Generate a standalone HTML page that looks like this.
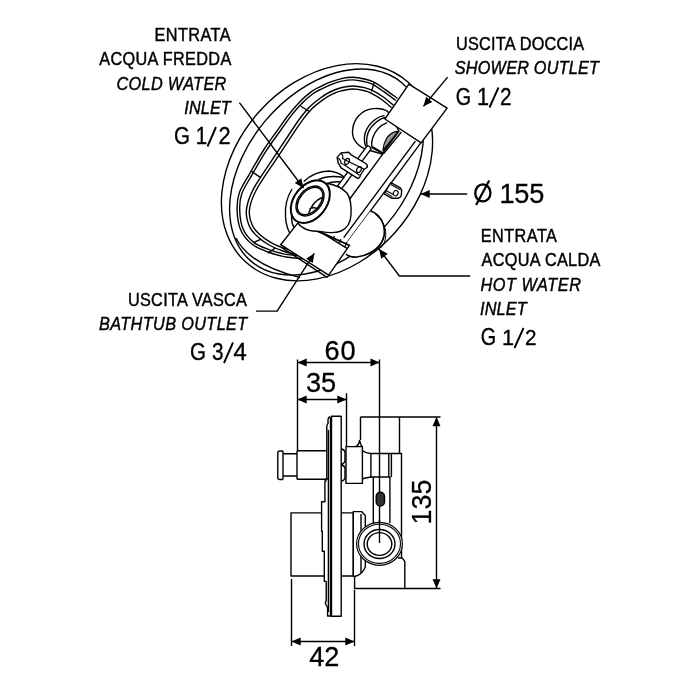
<!DOCTYPE html>
<html><head><meta charset="utf-8">
<style>
html,body{margin:0;padding:0;background:#fff;width:700px;height:700px;overflow:hidden}
svg{display:block;will-change:transform}
text{font-family:"Liberation Sans",sans-serif;fill:#000;stroke:#000;stroke-width:0.42px}
.lb{font-size:17.7px}
.it{font-style:italic}
.g{font-size:22.8px;stroke-width:0.35px}
.d{font-size:28px;stroke-width:0.3px}
.s{fill:none;stroke:#000;stroke-width:1.4;stroke-linejoin:round;stroke-linecap:butt}
.t{fill:none;stroke:#111;stroke-width:1.1}
.ar{fill:#000;stroke:none}
</style></head><body>
<svg width="700" height="700" viewBox="0 0 700 700">
<rect width="700" height="700" fill="#fff"/>

<text class="lb" letter-spacing="0.475" transform="translate(154.48 40.70) scale(0.9200 1)">ENTRATA</text>
<text class="lb" letter-spacing="0.348" transform="translate(99.30 65.40) scale(0.9200 1)">ACQUA FREDDA</text>
<text class="lb it" letter-spacing="0.338" transform="translate(116.48 89.70) scale(0.9200 1)">COLD WATER</text>
<text class="lb it" letter-spacing="0.109" transform="translate(184.28 114.20) scale(0.9200 1)">INLET</text>
<text class="lb" letter-spacing="0.254" transform="translate(455.98 49.90) scale(0.9200 1)">USCITA DOCCIA</text>
<text class="lb it" letter-spacing="0.201" transform="translate(454.78 73.90) scale(0.9200 1)">SHOWER OUTLET</text>
<text class="d" letter-spacing="-0.247" transform="translate(499.46 202.60) scale(0.9700 1)">155</text>
<text class="lb" letter-spacing="0.493" transform="translate(480.68 241.80) scale(0.9200 1)">ENTRATA</text>
<text class="lb" letter-spacing="0.324" transform="translate(481.60 266.20) scale(0.9200 1)">ACQUA CALDA</text>
<text class="lb it" letter-spacing="0.603" transform="translate(480.38 290.70) scale(0.9200 1)">HOT WATER</text>
<text class="lb it" letter-spacing="0.136" transform="translate(480.08 315.00) scale(0.9200 1)">INLET</text>
<text class="lb" letter-spacing="0.287" transform="translate(127.98 305.60) scale(0.9200 1)">USCITA VASCA</text>
<text class="lb it" letter-spacing="0.391" transform="translate(99.08 329.70) scale(0.9200 1)">BATHTUB OUTLET</text>
<text class="d" letter-spacing="0.897" transform="translate(324.53 359.50) scale(0.9700 1)">60</text>
<text class="d" letter-spacing="-0.134" transform="translate(306.03 391.50) scale(0.9700 1)">35</text>
<text class="d" letter-spacing="-0.237" transform="translate(309.33 665.70) scale(0.9700 1)">42</text>
<text class="d" transform="translate(431,524.4) rotate(-90) scale(0.959 1)">135</text>
<text class="g" transform="translate(174.10 144.20) scale(0.9000 1.0467)">G</text>
<text class="g" transform="translate(195.70 144.00) scale(0.9000 1.0333)">1</text>
<text class="g" transform="translate(218.55 144.00) scale(0.9545 1.0333)">2</text>
<text class="g" transform="translate(455.63 104.50) scale(0.8667 1.0667)">G</text>
<text class="g" transform="translate(477.10 104.50) scale(0.9500 1.0333)">1</text>
<text class="g" transform="translate(500.09 104.50) scale(0.9091 1.0333)">2</text>
<text class="g" transform="translate(480.63 345.00) scale(0.8667 1.0333)">G</text>
<text class="g" transform="translate(502.10 345.00) scale(0.9500 1.0000)">1</text>
<text class="g" transform="translate(525.09 345.00) scale(0.9091 1.0000)">2</text>
<text class="g" transform="translate(190.10 360.00) scale(0.9000 1.0667)">G</text>
<text class="g" transform="translate(212.09 360.00) scale(0.9091 1.0667)">3</text>
<text class="g" transform="translate(233.45 360.00) scale(1.0455 1.0333)">4</text>
<path d="M207.5 146.5 L216.0 127.0 M489.5 107.5 L498.5 87.5 M514.5 348.0 L523.5 328.0 M224.0 363.0 L233.0 342.5" style="fill:none;stroke:#000;stroke-width:1.9"/>
<ellipse cx="482.85" cy="192.9" rx="7.6" ry="8.5" style="fill:none;stroke:#000;stroke-width:2.3"/>
<path d="M476.1 205.1 L489.2 180.6" style="fill:none;stroke:#000;stroke-width:2.2"/>
<g class="s">
<ellipse cx="327.0" cy="172.22" rx="90.9" ry="121.16" transform="rotate(42.12 327.0 172.22)"/>
<ellipse cx="326.5" cy="172.02" rx="79.8" ry="116.80" transform="rotate(40.10 326.5 172.02)"/>
<path d="M236 238 C244 254 262 268 300 277.5"/>
<path d="M397.4 98.4 C395.3 96.9 388.9 92.0 384.9 89.3 C380.9 86.5 376.8 83.6 373.4 81.9 C370.0 80.2 367.7 79.8 364.3 79.0 C360.9 78.2 356.7 77.4 352.9 77.3 C349.1 77.2 345.2 77.8 341.4 78.6 C337.6 79.4 333.6 80.8 330.0 82.2 C326.4 83.6 323.1 85.2 320.0 86.8 C316.9 88.4 314.6 89.2 311.4 91.6 C308.2 94.0 304.4 97.1 300.6 101.0 C296.8 104.9 292.3 110.2 288.5 115.0 C284.7 119.8 281.8 124.2 277.7 130.0 C273.6 135.8 268.3 142.6 263.6 150.0 C258.9 157.4 253.4 167.2 249.3 174.3 C245.2 181.5 241.3 187.0 239.3 192.9 C237.3 198.8 236.9 203.8 237.1 210.0 C237.3 216.2 238.2 224.3 240.7 230.0 C243.2 235.7 247.5 240.6 252.1 244.3 C256.6 248.0 262.7 249.9 268.0 252.0 C273.3 254.1 279.3 255.6 284.0 256.6 C288.7 257.6 292.5 257.6 296.0 258.0 C299.5 258.4 303.5 258.8 305.0 259.0"/>
<path d="M395.9 100.5 C393.8 99.0 387.4 94.2 383.4 91.4 C379.5 88.7 375.5 85.9 372.2 84.2 C369.0 82.6 367.0 82.3 363.7 81.5 C360.5 80.8 356.5 80.0 352.9 79.9 C349.2 79.8 345.6 80.4 341.9 81.1 C338.3 81.9 334.4 83.3 330.9 84.6 C327.5 86.0 324.2 87.6 321.2 89.1 C318.2 90.6 316.1 91.4 312.9 93.7 C309.8 96.0 306.2 99.0 302.5 102.8 C298.7 106.6 294.3 111.8 290.5 116.6 C286.8 121.4 283.9 125.7 279.8 131.5 C275.7 137.3 270.5 144.1 265.8 151.4 C261.1 158.7 255.6 168.5 251.6 175.6 C247.6 182.6 243.7 188.0 241.8 193.7 C239.8 199.5 239.5 204.0 239.7 209.9 C239.9 215.8 240.7 223.6 243.1 229.0 C245.4 234.4 249.4 238.8 253.7 242.3 C258.0 245.7 263.8 247.6 268.9 249.6 C274.1 251.5 280.0 253.1 284.5 254.1 C289.1 255.0 292.8 255.0 296.3 255.4 C299.8 255.8 303.8 256.2 305.3 256.4"/>
<path d="M393.4 105.3 C391.8 104.0 387.2 99.8 383.7 97.3 C380.2 94.8 375.5 92.0 372.3 90.4 C369.1 88.8 367.5 88.3 364.3 87.6 C361.1 86.9 356.8 86.0 352.9 86.0 C349.0 86.0 344.8 86.8 341.0 87.8 C337.2 88.8 333.5 90.3 330.0 92.0 C326.5 93.7 323.3 95.8 320.0 98.2 C316.7 100.6 313.2 103.4 310.0 106.5 C306.8 109.6 304.0 113.1 301.0 117.0 C298.0 120.9 296.3 123.5 292.0 130.0 C287.7 136.4 281.4 145.9 275.0 155.7 C268.6 165.5 258.4 179.5 253.6 188.6 C248.8 197.7 247.1 203.7 246.4 210.0 C245.7 216.3 247.6 222.0 249.5 226.5 C251.4 231.0 254.6 233.8 258.0 237.0 C261.4 240.2 265.8 243.2 270.0 245.5 C274.2 247.8 278.7 249.5 283.0 251.0 C287.3 252.5 292.3 253.6 296.0 254.5 C299.7 255.4 303.5 256.2 305.0 256.5"/>
<path d="M391.5 107.6 C389.9 106.3 385.4 102.2 382.0 99.8 C378.5 97.3 374.0 94.6 371.0 93.1 C367.9 91.5 366.6 91.2 363.6 90.5 C360.6 89.8 356.6 89.0 352.9 89.0 C349.3 89.0 345.4 89.8 341.8 90.7 C338.2 91.7 334.7 93.0 331.3 94.7 C328.0 96.3 325.0 98.3 321.8 100.6 C318.6 103.0 315.2 105.6 312.1 108.6 C309.0 111.7 306.3 115.0 303.4 118.8 C300.4 122.7 298.8 125.3 294.5 131.7 C290.2 138.1 283.9 147.6 277.5 157.3 C271.1 167.1 260.9 181.2 256.3 190.0 C251.6 198.8 250.0 204.4 249.4 210.3 C248.7 216.2 250.5 221.2 252.3 225.3 C254.0 229.4 256.8 231.9 260.0 234.8 C263.2 237.7 267.5 240.7 271.5 242.9 C275.5 245.1 279.8 246.7 284.0 248.2 C288.2 249.6 293.1 250.7 296.7 251.6 C300.3 252.5 304.2 253.2 305.7 253.6"/>
<path d="M374.3 82.4L371.4 91.6 M300.6 106L310 112 M251.4 171.4L260 177.1 M252.9 242.9L260.7 239.3 M268 253.1L275.4 248"/>
</g>
<g class="s" style="fill:#fff">
<path d="M387.6 111.3 C381 107 366 107 358.9 115.6 C352 123 350.5 135 355.4 141.3 C358 145 361 147 364.9 149 L382 154 L399 131 Z"/>
</g>
<g class="s">
<path d="M384.6 115.6 C378 116 369 123 365.5 132 C363.5 138 364.5 143 365.7 146.4"/>
<path d="M386 117.5 C380 118 371.5 124.5 368 133 C366 139 366.5 143.5 367.5 147"/>
<path d="M387.1 122.6 C381 125 375.5 130 372.8 137.5 C371.6 141 371.5 144 371.7 146.3 L383.7 153.3"/>
<path d="M398.6 131.1 C393 131.5 388.5 135 386 139.5 C384 143 383.2 147 382.9 150.5 Z" style="fill:#999;stroke-width:1.2"/>
<path d="M401.4 132 L383.7 153.5"/>
</g>
<g class="s" style="fill:#fff">
<path d="M367 146.2 Q369.5 144.8 371 149.2 L341.7 188.7 L337.7 185.7 Z"/>
</g>
<g class="s">
<path d="M371.5 147.5 L383.1 153.7 L349 200"/>
</g>
<g class="s" style="fill:#fff">
<path d="M337.1 157.4 L341.1 152.9 L348.6 152.3 L350.9 154.6 L365.7 163.5 Q368.3 165.5 366.9 167.5 L364 169.5 L360.2 175.5 Q360 178.5 357.2 178.2 L341.1 167.9 L338.3 163.1 Z"/>
</g>
<g class="s" style="stroke-width:1.2">
<path d="M345.8 160.3 L364.2 169.2 M343.4 164.3 L359.6 175.2"/>
<path d="M341.1 152.9 Q343.5 155.5 342.5 158.5 L345.8 160.3 M338.3 158 Q341 160 341 163.5 L343.4 164.3"/>
<ellipse cx="347" cy="161.4" rx="2.1" ry="3.2" transform="rotate(30 347 161.4)"/>
<ellipse cx="359" cy="169.6" rx="2.1" ry="3.2" transform="rotate(30 359 169.6)"/>
</g>
<g class="s">
<path d="M415.4 141.1 L343.7 237.7 M420.6 143.2 L347.6 241.8"/>
</g>
<g class="s" style="fill:#fff">
<path d="M390.9 182.7 L400.3 187.9 Q402 189.5 401.6 192 L401.1 196 Q400 198 398.1 198.3 L392.1 198.3 L384 193.9 Z"/>
</g>
<g class="s" style="stroke-width:1.1">
<path d="M390.9 184.6 L400.3 189.8 M385.7 190.4 L393 194.3 M384.8 192.1 L392.3 196.6"/>
<ellipse cx="395.7" cy="193.2" rx="2.3" ry="2.8" transform="rotate(30 395.7 193.2)"/>
</g>
<g style="fill:#fff;stroke:none">
<path d="M370.4 211 C380 214 386 224 384 236 C382 246 372 255 357 257 C352 257.5 348 256 346 254 L338.5 254 Z"/>
</g>
<g class="s">
<path d="M370.4 211 C380 214 386 224 384 236 C382 246 372 255 357 257 C352 257.5 348 256 346 254" style="stroke-width:1.7"/>
<path d="M375 214 C383 220 387 229 385.5 238 C384.5 244 381 248 378 250" style="stroke-width:1"/>
<path d="M347.1 242.3 L338.5 254"/>
</g>
<g class="s">
<path d="M292 189 C287 197 284.8 208 285.5 217 C286 225 288 231 291.5 236"/>
<path d="M293.8 204 C291.5 211 291 218 292.3 223.5 C293 226 294 228 296 230"/>
</g>
<g class="s" style="fill:#fff">
<path d="M297.9 222.9 L349.5 245.4 L328.7 275.2 L280.7 244.7 Z"/>
</g>
<g class="s">
<path d="M281.5 247.3 L327.5 277.6"/>
<path d="M320.1 231.6 L349.5 245.4 M320.1 231.6 L347 248.4"/>
<path d="M334.5 236.2 L332.5 239.5 M341 239.3 L339.5 242.8 M346.5 242.5 L345.2 246.5"/>
</g>
<path d="M297.9 223.3 C301 227 305 229.5 310 230.5 C314 231.2 318 231.2 321 231.6 C328 232.8 336 233 341 231 C347 228.5 350.5 223 351 215 C351.5 206 350 198 347 193 L344 177 C340 173.5 335 171.5 329 171 C322 171 312 174 303.7 181.4 Z" style="fill:#fff;stroke:none"/>
<g class="s">
<path d="M303.7 181.4 C312 174 322 171 329 171 C335 171.5 340 173.5 344 177"/>
<path d="M318.7 179.5 C325 176.5 333 175.5 344 177.5"/>
<path d="M326 184 C331 182 336 181.5 341 182"/>
<path d="M327 183.2 C334 184.5 342 188 347 193 C350.5 198 351.5 206 351 215 C350.5 223 347 228.5 341 231 C336 233 328 232.8 321 231.6 C318 231.2 314 231.2 310 230.5 C305 229.5 301 227 297.9 223.3"/>
</g>
<g class="s" style="fill:#fff">
<path d="M344.6 176.6 L337.7 185.7 L341.7 188.7 L348.5 179.6"/>
</g>
<g class="s" style="fill:#fff">
<ellipse cx="310.3" cy="201.7" rx="16.5" ry="24" transform="rotate(38 310.3 201.7)" style="stroke-width:1.7"/>
</g>
<g class="s">
<ellipse cx="310.3" cy="201.7" rx="15.8" ry="23.3" transform="rotate(38 310.3 201.7)" style="stroke-width:0.8"/>
<ellipse cx="310" cy="201" rx="11.5" ry="17" transform="rotate(40 310 201)"/>
<ellipse cx="310" cy="201" rx="10.2" ry="15.7" transform="rotate(40 310 201)"/>
<path d="M308.5 214 C311 206 316 200 322 197.5 M309.5 209 C312 207 316 207.5 318 209"/>
</g>
<g class="s" style="fill:#fff">
<path d="M408.9 84.1 L447.1 108.1 L421.1 142.9 L384.9 119 Z"/>
</g>
<g class="s">
<path d="M239.4 102.7 L303.5 188"/>
<path d="M447.6 77.1 L423.5 106.3"/>
<path d="M467.2 194 L420.5 194"/>
<path d="M379.1 249.1 L399.4 276 L470.3 276"/>
<path d="M256 311.1 L277.1 311.1 L314.3 253.4"/>
</g>
<g class="ar">
<path d="M303.5 188.0 L294.7 183.1 L301.3 178.2 Z M423.5 106.3 L426.1 96.8 L432.3 101.9 Z M420.5 194.0 L429.7 190.0 L429.7 198.0 Z M379.1 249.1 L387.8 253.8 L381.2 258.8 Z M314.3 253.4 L312.8 263.1 L306.1 258.8 Z"/>
</g>
<!-- ===== SIDE VIEW ===== -->
<g class="s">
  <!-- dimension lines -->
  <path d="M297.5 359.5V450.5 M379.5 359.5V543 M346.5 393.3V446.5"/>
  <path d="M297.5 362.5H379.5 M297.5 399.5H346.5"/>
  <path d="M360.5 417H440.5 M404 588.5H440.5 M436.5 417V588.5"/>
  <path d="M291.5 579V646 M354.5 590V646 M291.5 641.5H354.5"/>

  <!-- knob -->
  <path d="M283 453.7H297 M283 476H297 M297 450.8H326 M297 479.2H326 M297 450.8V479.2"/>
  <path d="M283 451V479.5 M277.8 453 Q277.5 451 280 451 H283 M277.8 477.5 Q277.5 479.5 280 479.5 H283 M277.8 453V477.5"/>
  <!-- cover thin lines and stepped contour -->
  <path d="M326.8 425.7V479 M326.8 425.7 Q327.5 424 328 424 M328 479 L325.9 479 V481 H324.9 V501.8 H321.6 V531.3 H322.3 V551.3 H324.3 V581.4 H326.2 V601 L325.5 602 V604 L327.6 607.4 V616 H331.5"/>
  <path d="M328 424 V420 Q328.5 417 329.5 417 Q330.5 417 330.5 420 V616" />
  <path d="M328.4 430V612"/>
  <!-- plate -->
  <path d="M331.5 416.3H341.2V616.3H331.5Z"/>
  <!-- bumps -->
  <path d="M341.2 449 Q344 449 345 452 V461 Q344 464 341.2 464 M341.2 465 Q344 465 345 468 V478 Q344 481 341.2 481"/>
  <!-- nut -->
  <path d="M346 446.6H362.4V483.4H346Z"/>
  <!-- nub -->
  <path d="M355.5 446.6 Q358.5 446 359.6 440.5 Q361 446 362.4 446.6"/>
  <!-- top box -->
  <path d="M360.5 417V440 M399.5 417V453.5"/>
  <!-- neck -->
  <path d="M362.4 450.5 Q366 453.5 370 453.5 H401.5 V561 M362.4 479 Q366 477.5 373 477 H390.5"/>
  <path d="M370.9 453.5V477 M388.8 453.5V477 M391.4 453.5V477"/>
  <path d="M373.3 477V525 M389.9 477V523"/>
  <!-- slot -->
  <rect x="376.2" y="492.3" width="8.3" height="13.7" rx="4" fill="#333"/>
  <!-- bottom left box -->
  <path d="M321.6 512.9H291V576H324.3 M341.2 512.9H353.3V576H341.2"/>
  <!-- lower body -->
  <path d="M354.6 566V588.5H404.8V561.3 L402.3 558 H398" style="fill:#fff"/>
  <path d="M353.3 511.6H361.5 L365.3 515.5 V567 Q362 575 354.6 576.5 L353.3 576 Z" style="fill:#fff"/>
  <path d="M361 514V573"/>
  <!-- ring -->
  <ellipse cx="379.5" cy="543.8" rx="22.9" ry="21.5" style="fill:#fff;stroke-width:1.2"/>
  <ellipse cx="379.5" cy="543.8" rx="21" ry="19.6" style="stroke-width:1.1"/>
  <ellipse cx="379.5" cy="544" rx="15.5" ry="14.5"/>
  <ellipse cx="379.5" cy="544" rx="12.3" ry="11.4"/>
  <path d="M379.5 520V543"/>
</g>
<g class="ar">
  <path d="M297.5 362.5l9.2 -4.1v8.2z M379.5 362.5l-9 -4.1v8.2z"/>
  <path d="M297.5 399.5l9.2 -4.1v8.2z M346.5 399.5l-9.2 -4.1v8.2z"/>
  <path d="M436.5 417l-4 9.2h8z M436.5 588.5l-4 -9.2h8z"/>
  <path d="M291.5 641.5l9.2 -4.1v8.2z M354.5 641.5l-9.2 -4.1v8.2z"/>
</g>
</svg>
</body></html>
